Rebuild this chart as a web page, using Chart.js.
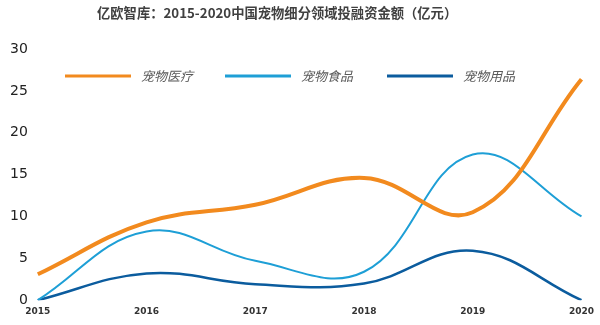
<!DOCTYPE html>
<html>
<head>
<meta charset="utf-8">
<script src="https://cdn.jsdelivr.net/npm/chart.js@4"></script>
<style>
    html, body { margin: 0; padding: 0; background: #fff; }
    #wrap { width: 600px; height: 325px; position: relative; }
    #title {
        position: absolute; left: 97px; top: 3px;
        font: bold 13.3px "Noto Sans CJK SC", sans-serif; color: #404040;
        white-space: nowrap;
    }
</style>
</head>
<body>
<div id="wrap">
    <div id="title">亿欧智库：2015-2020中国宠物细分领域投融资金额（亿元）</div>
    <canvas id="investChart"></canvas>
</div>
<script>
const years = ['2015', '2016', '2017', '2018', '2019', '2020'];
const medical = [3.1, 9.3, 11.4, 14.6, 10.5, 26.4];
const food = [0, 8.2, 4.7, 3.4, 17.4, 10.0];
const supplies = [0, 3.2, 1.9, 2.0, 5.9, 0];
const seriesNames = ['宠物医疗', '宠物食品', '宠物用品'];
const yTicks = [0, 5, 10, 15, 20, 25, 30];

// legend drawn inside the plot, one row
const inlineLegend = {
    id: 'inlineLegend',
    afterDraw(chart) {
        const c = chart.ctx;
        const starts = [65, 225, 387];
        const y = 76;
        c.save();
        chart.data.datasets.forEach((ds, i) => {
            const x = starts[i];
            c.strokeStyle = ds.borderColor;
            c.lineWidth = 3;
            c.beginPath();
            c.moveTo(x, y);
            c.lineTo(x + 66, y);
            c.stroke();
            c.fillStyle = '#595959';
            c.font = 'italic 13px "Noto Sans CJK SC", sans-serif';
            c.textBaseline = 'middle';
            c.fillText(ds.label, x + 76, y);
        });
        c.restore();
    }
};

const ctx = document.getElementById('investChart').getContext('2d');
new Chart(ctx, {
    type: 'line',
    data: {
        labels: years,
        datasets: [
            {
                label: seriesNames[0],
                data: medical,
                borderColor: '#F28A1E',
                backgroundColor: '#F28A1E',
                borderWidth: 4,
                pointRadius: 0,
                tension: 0.4
            },
            {
                label: seriesNames[1],
                data: food,
                borderColor: '#1E9FD6',
                backgroundColor: '#1E9FD6',
                borderWidth: 2,
                pointRadius: 0,
                tension: 0.4
            },
            {
                label: seriesNames[2],
                data: supplies,
                borderColor: '#0B5C9E',
                backgroundColor: '#0B5C9E',
                borderWidth: 2.5,
                pointRadius: 0,
                tension: 0.4
            }
        ]
    },
    plugins: [inlineLegend],
    options: {
        responsive: true,
        maintainAspectRatio: false,
        animation: false,
        layout: {
            padding: { left: 0, right: 16, top: 49, bottom: 2 }
        },
        plugins: {
            legend: { display: false },
            tooltip: { enabled: false }
        },
        scales: {
            x: {
                grid: { display: false, drawTicks: false },
                border: { display: false },
                ticks: {
                    color: '#333',
                    padding: 6,
                    maxRotation: 0,
                    font: { family: '"DejaVu Sans", sans-serif', size: 9, weight: 'bold' }
                }
            },
            y: {
                min: yTicks[0],
                max: yTicks[yTicks.length - 1],
                grid: { display: false, drawTicks: false },
                border: { display: false },
                ticks: {
                    stepSize: 5,
                    color: '#222',
                    padding: 10,
                    font: { family: '"DejaVu Sans", sans-serif', size: 14 }
                }
            }
        }
    }
});
</script>
</body>
</html>
